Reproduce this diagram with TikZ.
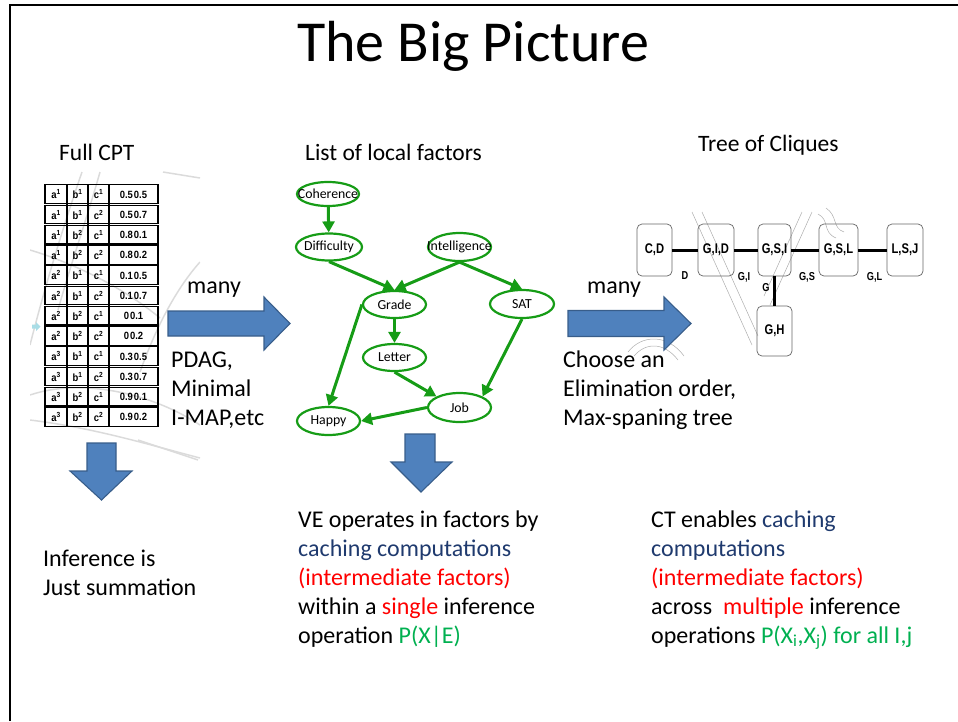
\documentclass[tikz,border=0pt]{standalone}
\usepackage{fontspec}
\setmainfont{Carlito}
\newfontfamily\narrowfont{Liberation Sans}[FakeStretch=0.8]
\newfontfamily\cellfont{Liberation Sans}[FakeStretch=0.9]
\usetikzlibrary{arrows.meta,shapes.geometric}

\definecolor{arrowblue}{HTML}{4F81BD}
\definecolor{arrowedge}{HTML}{385D8A}
\definecolor{netgreen}{HTML}{169C16}
\definecolor{navytext}{HTML}{1F3A6E}
\definecolor{redtext}{HTML}{FF0000}
\definecolor{greentext}{HTML}{00B050}
\definecolor{marktint}{HTML}{A9DDE6}

\tikzset{
  body/.style={anchor=base west, inner sep=0pt, font=\fontsize{24}{29}\selectfont},
  heading/.style={anchor=base west, inner sep=0pt, font=\fontsize{23.5}{29}\selectfont},
  bigarrow/.style={fill=arrowblue, draw=arrowedge, line width=1.1pt, line join=miter},
  bn/.style={draw=netgreen, line width=2.2pt, ellipse, inner sep=0pt,
             minimum width=63pt, minimum height=27pt},
  bnlabel/.style={inner sep=0pt, font=\fontsize{13.8}{15}\selectfont},
  bnedge/.style={draw=netgreen, line width=3pt, -{Triangle[length=11pt,width=12pt]}},
  clique/.style={draw=black!60, line width=0.7pt, rounded corners=5pt, inner sep=0pt,
                 minimum height=52pt, font=\narrowfont\bfseries\fontsize{14}{15}\selectfont},
  sepset/.style={inner sep=0pt, font=\narrowfont\bfseries\fontsize{11.5}{12}\selectfont},
  cliqueedge/.style={draw=black, line width=3pt},
  tabline/.style={draw=black, line width=1.1pt},
  cell/.style={inner sep=0pt, font=\cellfont\bfseries\fontsize{10.5}{11}\selectfont},
  faint/.style={draw=black!14, line width=1.5pt},
  thinmark/.style={draw=black!32, line width=0.5pt},
}

\begin{document}
\begin{tikzpicture}[x=1pt, y=-1pt]
\useasboundingbox (0,0) rectangle (958,721);

% slide frame
\draw[line width=2pt] (10,721) -- (10,5) -- (958,5);

% title and section headings
\node[anchor=base, inner sep=0pt, font=\fontsize{58}{70}\selectfont] (title) at (473,61) {The Big Picture};
\node[heading] (hcpt) at (59,160) {Full CPT};
\node[heading] (hfac) at (305,160) {List of local factors};
\node[heading] (htree) at (698,151) {Tree of Cliques};

% faint strokes behind the table
\begin{scope}
\clip (30,170) rectangle (200,462);
\draw[faint] (82,172) .. controls (62,230) and (44,290) .. (30,345);
\draw[faint] (100,172) .. controls (88,215) and (72,260) .. (58,310);
\draw[faint] (30,395) .. controls (80,378) and (150,392) .. (200,425);
\draw[faint] (30,420) .. controls (95,428) and (150,445) .. (200,458);
\draw[faint] (163,172) -- (200,178);
\draw[faint] (200,262) .. controls (175,290) and (155,330) .. (140,372);
\draw[faint] (30,250) .. controls (70,262) and (120,285) .. (160,318);
\draw[faint] (138,440) -- (198,460);
\end{scope}

% faint outlines behind the clique tree
\draw[thinmark] (692,212) -- (752,345);
\draw[thinmark] (702,212) -- (758,336);
\draw[thinmark] (812,212) -- (770,305);
\draw[thinmark] (802,212) -- (764,296);
\draw[thinmark] (818,214) .. controls (830,220) and (822,232) .. (836,238);
\draw[thinmark] (826,208) .. controls (838,216) and (832,228) .. (844,232);
\draw[thinmark] (628,352) .. controls (642,334) and (668,334) .. (684,356);
\draw[thinmark] (634,356) .. controls (646,342) and (664,342) .. (678,360);

% full CPT table
\foreach \ra/\rb/\rc/\rp [count=\i from 0] in
  {1/1/1/0.5\hspace{1pt}0.5, 1/1/2/0.5\hspace{1pt}0.7, 1/2/1/0.8\hspace{1pt}0.1, 1/2/2/0.8\hspace{1pt}0.2,
   2/1/1/0.1\hspace{1pt}0.5, 2/1/2/0.1\hspace{1pt}0.7, 2/2/1/0\hspace{1pt}0.1, 2/2/2/0\hspace{1pt}0.2,
   3/1/1/0.3\hspace{1pt}0.5, 3/1/2/0.3\hspace{1pt}0.7, 3/2/1/0.9\hspace{1pt}0.1, 3/2/2/0.9\hspace{1pt}0.2}
{
  \pgfmathsetmacro\yt{184+20.25*\i}
  \pgfmathsetmacro\yb{\yt+20.25}
  \pgfmathsetmacro\ym{\yt+10.4}
  \draw[tabline] (45,{\yt+0.8}) rectangle (158,{\yb-0.8});
  \draw[tabline] (67,\yt) -- (67,\yb) (88,\yt) -- (88,\yb) (109,\yt) -- (109,\yb);
  \node[cell] (ca\i) at (56,\ym) {a\textsuperscript{\ra}};
  \node[cell] (cb\i) at (77.5,\ym) {b\textsuperscript{\rb}};
  \node[cell] (cc\i) at (98.5,\ym) {c\textsuperscript{\rc}};
  \node[cell] (cp\i) at (133.5,\ym) {\rp};
}
% small pointer at the left of the table
\fill[marktint] (32,324.5) -- (36,324.5) -- (36,322) -- (40.5,326.5) -- (36,331) -- (36,328.5) -- (32,328.5) -- cycle;

% wide arrows
\draw[bigarrow] (168,311) -- (264,311) -- (264,297) -- (290,323.5) -- (264,350) -- (264,336) -- (168,336) -- cycle;
\draw[bigarrow] (568,310.5) -- (664,310.5) -- (664,297) -- (691,323.5) -- (664,350) -- (664,336.5) -- (568,336.5) -- cycle;
\draw[bigarrow] (87,443) -- (116,443) -- (116,471) -- (132,471) -- (101.5,500) -- (70,471) -- (87,471) -- cycle;
\draw[bigarrow] (405,434) -- (435,434) -- (435,462) -- (452,462) -- (421,492) -- (391,462) -- (405,462) -- cycle;

% arrow captions
\node[body] (many1) at (187,293) {many};
\node[body] (pdag1) at (171,367) {PDAG,};
\node[body] (pdag2) at (171,396) {Minimal};
\node[body] (pdag3) at (171,425) {I-MAP,etc};
\node[body] (many2) at (587,293) {many};
\node[body] (elim1) at (563,367) {Choose an};
\node[body] (elim2) at (563,396) {Elimination order,};
\node[body] (elim3) at (563,425) {Max-spaning tree};

% Bayesian network of local factors
\node[bn, minimum width=62pt, minimum height=24pt] (coh) at (328,194) {};
\node[bn, minimum width=66pt] (dif) at (329,247) {};
\node[bn, minimum height=28pt] (int) at (459.5,247) {};
\node[bn] (gra) at (394.5,304.5) {};
\node[bn, minimum width=64pt, minimum height=28pt] (sat) at (522,304) {};
\node[bn] (let) at (394.5,357.5) {};
\node[bn, minimum height=29pt] (job) at (459.5,407.5) {};
\node[bn, minimum height=28pt] (hap) at (328.5,421) {};
\node[bnlabel] (tcoh) at (coh) {Coherence};
\node[bnlabel] (tdif) at (dif) {Difficulty};
\node[bnlabel] (tint) at (int) {Intelligence};
\node[bnlabel] (tgra) at (gra) {Grade};
\node[bnlabel] (tsat) at (sat) {SAT};
\node[bnlabel] (tlet) at (let) {Letter};
\node[bnlabel] (tjob) at (job) {Job};
\node[bnlabel] (thap) at (hap) {Happy};

\draw[bnedge] (coh) -- (dif);
\draw[bnedge] (dif.south) -- (gra.north);
\draw[bnedge] (int.south) -- (gra.north);
\draw[bnedge] (int.south) -- (sat.north);
\draw[bnedge] (gra) -- (let);
\draw[bnedge] (gra.west) -- (hap.north);
\draw[bnedge] (let.south) -- (job.north west);
\draw[bnedge] (sat.south) -- (job.north east);
\draw[bnedge] (job.west) -- (hap.east);

% tree of cliques
\node[clique, minimum width=35pt] (cd)  at (654.5,250) {C,D};
\node[clique, minimum width=36pt] (gid) at (716,250) {G,I,D};
\node[clique, minimum width=33pt] (gsi) at (774.5,250) {G,S,I};
\node[clique, minimum width=39pt] (gsl) at (838.5,250) {G,S,L};
\node[clique, minimum width=36pt] (lsj) at (905,250) {L,S,J};
\node[clique, minimum width=35pt, minimum height=50pt] (gh) at (774.5,331) {G,H};

\draw[cliqueedge] (cd) -- node[sepset, yshift=-26pt] (sd) {D} (gid);
\draw[cliqueedge] (gid) -- node[sepset, xshift=-2pt, yshift=-27pt] (sgi) {G,I} (gsi);
\draw[cliqueedge] (gsi) -- node[sepset, xshift=2pt, yshift=-27pt] (sgs) {G,S} (gsl);
\draw[cliqueedge] (gsl) -- node[sepset, xshift=2pt, yshift=-27pt] (sgl) {G,L} (lsj);
\draw[cliqueedge] (gsi) -- node[sepset, xshift=-8.5pt, yshift=3pt] (sg) {G} (gh);

% conclusions
\node[body] (inf1) at (43,566) {Inference is};
\node[body] (inf2) at (43,595) {Just summation};

\node[body] (ve1) at (298,527) {VE operates in factors by};
\node[body] (ve2) at (298,556) {\color{navytext}caching computations};
\node[body] (ve3) at (298,585) {\color{redtext}(intermediate factors)};
\node[body] (ve4) at (298,614) {within a {\color{redtext}single} inference};
\node[body] (ve5) at (298,643) {operation {\color{greentext}P(X|E)}};

\node[body] (ct1) at (651,527) {CT enables {\color{navytext}caching}};
\node[body] (ct2) at (651,556) {\color{navytext}computations};
\node[body] (ct3) at (651,585) {\color{redtext}(intermediate factors)};
\node[body] (ct4) at (651,614) {across\ \ {\color{redtext}multiple} inference};
\node[body] (ct5) at (651,643) {operations {\color{greentext}P(X\textsubscript{i},X\textsubscript{j}) for all I,j}};
\end{tikzpicture}
\end{document}
